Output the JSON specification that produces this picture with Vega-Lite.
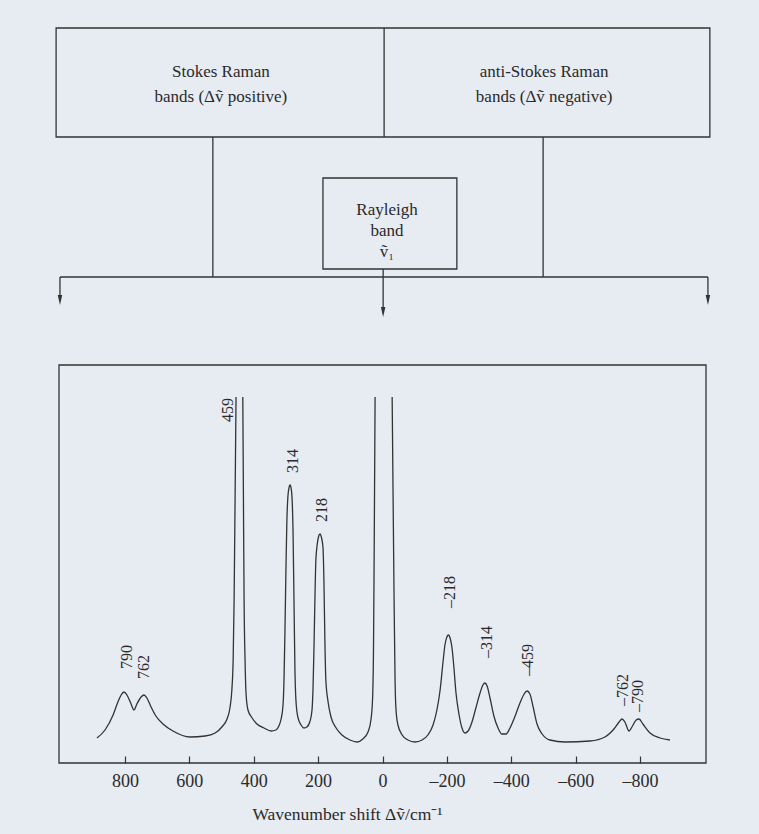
{
  "$schema": "https://vega.github.io/schema/vega-lite/v6.json",
  "width": 647,
  "height": 763,
  "autosize": {"type": "none"},
  "padding": {"left": 59, "right": 53, "top": 0, "bottom": 71},
  "background": "#e7ebf2",
  "config": {"view": {"stroke": null}, "font": "Liberation Serif"},
  "datasets": {
    "boxes": [
      {"x": 1014, "x2": -1017, "y": 735, "y2": 626},
      {"x": 185, "x2": -231, "y": 585, "y2": 494},
      {"x": 1005, "x2": -1005, "y": 398, "y2": 0}
    ],
    "lines": [
      {"x": -5, "x2": -5, "y": 735, "y2": 626},
      {"x": 527, "x2": 527, "y": 626, "y2": 486},
      {"x": -499, "x2": -499, "y": 626, "y2": 486},
      {"x": 1002, "x2": -1011, "y": 486, "y2": 486},
      {"x": -2, "x2": -2, "y": 494, "y2": 450},
      {"x": 1002, "x2": 1002, "y": 486, "y2": 462},
      {"x": -1011, "x2": -1011, "y": 486, "y2": 462}
    ],
    "heads": [
      {"x": 1002, "y": 458},
      {"x": -2, "y": 446},
      {"x": -1011, "y": 458}
    ],
    "boxtext": [
      {"x": 502, "y": 691, "t": "Stokes Raman"},
      {"x": 502, "y": 666, "t": "bands (\u0394\u1e7d positive)"},
      {"x": -502, "y": 691, "t": "anti-Stokes Raman"},
      {"x": -502, "y": 666, "t": "bands (\u0394\u1e7d negative)"},
      {"x": -14, "y": 553, "t": "Rayleigh"},
      {"x": -14, "y": 532, "t": "band"},
      {"x": -14, "y": 511, "t": "\u1e7d\u2081"}
    ],
    "peaklabels": [
      {"x": 480, "y": 353, "t": "459"},
      {"x": 278, "y": 302, "t": "314"},
      {"x": 188, "y": 253, "t": "218"},
      {"x": 794, "y": 106, "t": "790"},
      {"x": 741, "y": 96, "t": "762"},
      {"x": -210, "y": 171, "t": "\u2013218"},
      {"x": -325, "y": 121, "t": "\u2013314"},
      {"x": -452, "y": 103, "t": "\u2013459"},
      {"x": -747, "y": 73, "t": "\u2013762"},
      {"x": -794, "y": 67, "t": "\u2013790"}
    ],
    "spectrum": [
      {"s": "a", "x": 887, "y": 25}, {"s": "a", "x": 862, "y": 33}, {"s": "a", "x": 837, "y": 48},
      {"s": "a", "x": 822, "y": 61}, {"s": "a", "x": 812, "y": 68}, {"s": "a", "x": 803, "y": 71},
      {"s": "a", "x": 794, "y": 68}, {"s": "a", "x": 781, "y": 59}, {"s": "a", "x": 772, "y": 53},
      {"s": "a", "x": 763, "y": 59}, {"s": "a", "x": 750, "y": 66}, {"s": "a", "x": 741, "y": 68},
      {"s": "a", "x": 732, "y": 65}, {"s": "a", "x": 719, "y": 56}, {"s": "a", "x": 704, "y": 47},
      {"s": "a", "x": 682, "y": 39}, {"s": "a", "x": 651, "y": 32}, {"s": "a", "x": 598, "y": 26},
      {"s": "a", "x": 551, "y": 27}, {"s": "a", "x": 520, "y": 30}, {"s": "a", "x": 499, "y": 36},
      {"s": "a", "x": 483, "y": 44}, {"s": "a", "x": 474, "y": 55}, {"s": "a", "x": 468, "y": 73},
      {"s": "a", "x": 464, "y": 103}, {"s": "a", "x": 461, "y": 163}, {"s": "a", "x": 458, "y": 263},
      {"s": "a", "x": 455, "y": 366},
      {"s": "b", "x": 434, "y": 366}, {"s": "b", "x": 432, "y": 263}, {"s": "b", "x": 430, "y": 163},
      {"s": "b", "x": 427, "y": 103}, {"s": "b", "x": 424, "y": 70}, {"s": "b", "x": 418, "y": 53},
      {"s": "b", "x": 405, "y": 45}, {"s": "b", "x": 390, "y": 39}, {"s": "b", "x": 368, "y": 35},
      {"s": "b", "x": 346, "y": 32}, {"s": "b", "x": 331, "y": 33}, {"s": "b", "x": 322, "y": 37},
      {"s": "b", "x": 315, "y": 44}, {"s": "b", "x": 309, "y": 58}, {"s": "b", "x": 306, "y": 83},
      {"s": "b", "x": 303, "y": 133}, {"s": "b", "x": 300, "y": 193}, {"s": "b", "x": 297, "y": 243},
      {"s": "b", "x": 294, "y": 266}, {"s": "b", "x": 290, "y": 276}, {"s": "b", "x": 287, "y": 278},
      {"s": "b", "x": 284, "y": 275}, {"s": "b", "x": 281, "y": 265}, {"s": "b", "x": 278, "y": 233},
      {"s": "b", "x": 275, "y": 163}, {"s": "b", "x": 272, "y": 93}, {"s": "b", "x": 269, "y": 63},
      {"s": "b", "x": 263, "y": 46}, {"s": "b", "x": 253, "y": 38}, {"s": "b", "x": 244, "y": 35},
      {"s": "b", "x": 235, "y": 36}, {"s": "b", "x": 225, "y": 42}, {"s": "b", "x": 219, "y": 53},
      {"s": "b", "x": 216, "y": 73}, {"s": "b", "x": 213, "y": 113}, {"s": "b", "x": 210, "y": 163},
      {"s": "b", "x": 207, "y": 203}, {"s": "b", "x": 203, "y": 218}, {"s": "b", "x": 199, "y": 226},
      {"s": "b", "x": 194, "y": 229}, {"s": "b", "x": 190, "y": 226}, {"s": "b", "x": 185, "y": 216},
      {"s": "b", "x": 182, "y": 183}, {"s": "b", "x": 179, "y": 123}, {"s": "b", "x": 176, "y": 83},
      {"s": "b", "x": 169, "y": 61}, {"s": "b", "x": 160, "y": 46}, {"s": "b", "x": 144, "y": 35},
      {"s": "b", "x": 126, "y": 28}, {"s": "b", "x": 101, "y": 23}, {"s": "b", "x": 79, "y": 21},
      {"s": "b", "x": 61, "y": 24}, {"s": "b", "x": 45, "y": 31}, {"s": "b", "x": 36, "y": 43},
      {"s": "b", "x": 31, "y": 63}, {"s": "b", "x": 28, "y": 113}, {"s": "b", "x": 26, "y": 203},
      {"s": "b", "x": 23, "y": 366},
      {"s": "c", "x": -30, "y": 366}, {"s": "c", "x": -33, "y": 263}, {"s": "c", "x": -36, "y": 163},
      {"s": "c", "x": -39, "y": 83}, {"s": "c", "x": -42, "y": 53}, {"s": "c", "x": -48, "y": 38},
      {"s": "c", "x": -61, "y": 28}, {"s": "c", "x": -79, "y": 23}, {"s": "c", "x": -101, "y": 21},
      {"s": "c", "x": -123, "y": 23}, {"s": "c", "x": -141, "y": 28}, {"s": "c", "x": -157, "y": 38},
      {"s": "c", "x": -169, "y": 53}, {"s": "c", "x": -179, "y": 73}, {"s": "c", "x": -188, "y": 101},
      {"s": "c", "x": -194, "y": 118}, {"s": "c", "x": -200, "y": 126}, {"s": "c", "x": -205, "y": 128},
      {"s": "c", "x": -210, "y": 125}, {"s": "c", "x": -216, "y": 115}, {"s": "c", "x": -222, "y": 95},
      {"s": "c", "x": -228, "y": 71}, {"s": "c", "x": -238, "y": 48}, {"s": "c", "x": -247, "y": 35},
      {"s": "c", "x": -256, "y": 30}, {"s": "c", "x": -266, "y": 32}, {"s": "c", "x": -278, "y": 41},
      {"s": "c", "x": -290, "y": 55}, {"s": "c", "x": -303, "y": 70}, {"s": "c", "x": -312, "y": 78},
      {"s": "c", "x": -318, "y": 80}, {"s": "c", "x": -325, "y": 77}, {"s": "c", "x": -334, "y": 65},
      {"s": "c", "x": -346, "y": 47}, {"s": "c", "x": -359, "y": 35}, {"s": "c", "x": -371, "y": 29},
      {"s": "c", "x": -384, "y": 29}, {"s": "c", "x": -396, "y": 35}, {"s": "c", "x": -412, "y": 47},
      {"s": "c", "x": -427, "y": 60}, {"s": "c", "x": -440, "y": 69}, {"s": "c", "x": -449, "y": 72},
      {"s": "c", "x": -458, "y": 69}, {"s": "c", "x": -468, "y": 56}, {"s": "c", "x": -480, "y": 39},
      {"s": "c", "x": -496, "y": 29}, {"s": "c", "x": -520, "y": 23}, {"s": "c", "x": -567, "y": 21},
      {"s": "c", "x": -645, "y": 22}, {"s": "c", "x": -691, "y": 26}, {"s": "c", "x": -719, "y": 34},
      {"s": "c", "x": -735, "y": 41}, {"s": "c", "x": -744, "y": 44}, {"s": "c", "x": -753, "y": 41},
      {"s": "c", "x": -766, "y": 32}, {"s": "c", "x": -775, "y": 36}, {"s": "c", "x": -788, "y": 43},
      {"s": "c", "x": -797, "y": 44}, {"s": "c", "x": -809, "y": 39}, {"s": "c", "x": -831, "y": 30},
      {"s": "c", "x": -862, "y": 25}, {"s": "c", "x": -893, "y": 23}
    ]
  },
  "encoding": {
    "x": {
      "field": "x", "type": "quantitative",
      "scale": {"domain": [-1005, 1005], "reverse": true, "nice": false, "zero": false},
      "axis": {
        "values": [800, 600, 400, 200, 0, -200, -400, -600, -800],
        "labelExpr": "datum.value < 0 ? '\u2013' + (-datum.value) : '' + datum.value",
        "domain": false, "grid": false,
        "tickSize": -7, "tickColor": "#333333", "tickWidth": 1.2,
        "labelPadding": 16, "labelFont": "Liberation Serif", "labelFontSize": 18, "labelColor": "#2a2a2a",
        "title": "Wavenumber shift \u0394\u1e7d/cm\u207b\u00b9",
        "titleFont": "Liberation Serif", "titleFontSize": 17.5, "titleFontWeight": "normal", "titleColor": "#2a2a2a",
        "titleX": 288, "titleY": 51, "titleAlign": "center", "titleBaseline": "middle", "titleAnchor": null
      }
    },
    "y": {"field": "y", "type": "quantitative", "scale": {"domain": [0, 763], "nice": false, "zero": false}, "axis": null}
  },
  "layer": [
    {
      "data": {"name": "spectrum"},
      "mark": {"type": "line", "interpolate": "monotone", "color": "#333333", "strokeWidth": 1.3},
      "encoding": {
        "detail": {"field": "s"},
        "order": {"field": "x", "sort": "descending"}
      }
    },
    {
      "data": {"name": "boxes"},
      "mark": {"type": "rect", "fillOpacity": 0, "stroke": "#333333", "strokeWidth": 1.3},
      "encoding": {"x2": {"field": "x2"}, "y2": {"field": "y2"}}
    },
    {
      "data": {"name": "lines"},
      "mark": {"type": "rule", "color": "#333333", "strokeWidth": 1.3},
      "encoding": {"x2": {"field": "x2"}, "y2": {"field": "y2"}}
    },
    {
      "data": {"name": "heads"},
      "mark": {"type": "point", "shape": "M-0.45,-2L0,0L0.45,-2Z", "filled": true, "size": 100, "color": "#333333", "opacity": 1},
      "encoding": {}
    },
    {
      "data": {"name": "boxtext"},
      "mark": {"type": "text", "font": "Liberation Serif", "fontSize": 17, "color": "#2a2a2a", "align": "center", "baseline": "middle"},
      "encoding": {"text": {"field": "t"}}
    },
    {
      "data": {"name": "peaklabels"},
      "mark": {"type": "text", "font": "Liberation Serif", "fontSize": 16, "color": "#2a2a2a", "align": "center", "baseline": "middle", "angle": 270},
      "encoding": {"text": {"field": "t"}}
    }
  ]
}
